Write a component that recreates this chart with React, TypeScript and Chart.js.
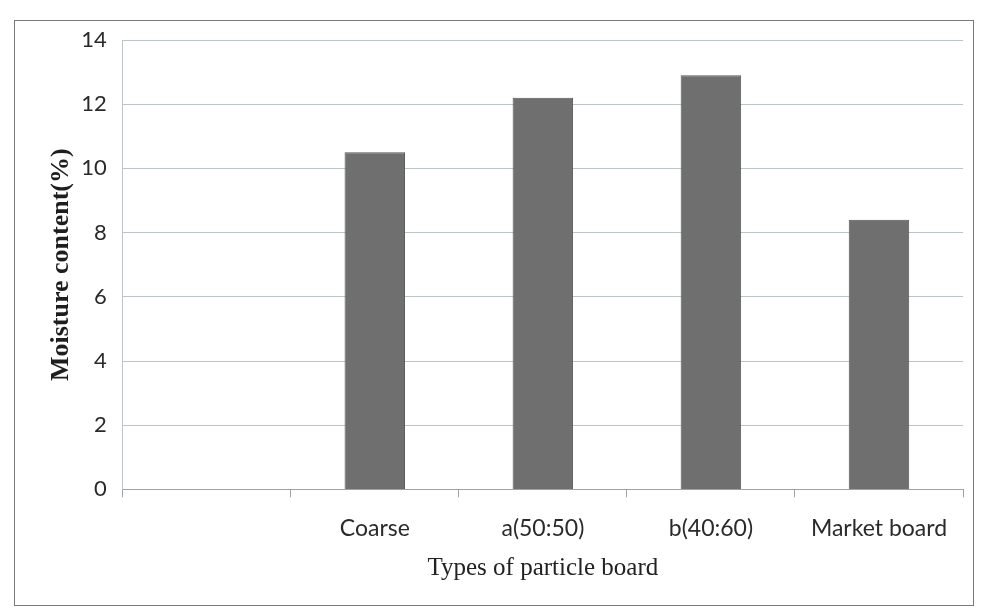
import React, { useEffect, useRef } from "react";
import { Chart, registerables } from "chart.js";

Chart.register(...registerables);

const categories = ["", "Coarse", "a(50:50)", "b(40:60)", "Market board"];
const moisture = [null, 10.5, 12.2, 12.9, 8.4];
const yMin = 0;
const yMax = 14;
const yStep = 2;
const yTitle = "Moisture content(%)";
const xTitle = "Types of particle board";

export default function App() {
  const ref = useRef<HTMLCanvasElement | null>(null);

  useEffect(() => {
    if (!ref.current) return;
    const chart = new Chart(ref.current, {
      type: "bar",
      data: {
        labels: categories,
        datasets: [
          {
            label: "Moisture content",
            data: moisture as any,
            backgroundColor: "#6f6f6f",
            borderColor: "#555555",
            borderWidth: 1,
            barPercentage: 0.36,
            categoryPercentage: 1,
          },
        ],
      },
      options: {
        animation: false,
        responsive: false,
        maintainAspectRatio: false,
        layout: { padding: { left: 44, top: 40, right: 18, bottom: 27 } },
        plugins: {
          legend: { display: false },
          tooltip: { enabled: false },
        },
        scales: {
          x: {
            grid: {
              offset: true,
              drawOnChartArea: false,
              drawTicks: true,
              tickLength: 8,
              color: "#9aa3a5",
            },
            border: { display: true, color: "#9aa3a5" },
            ticks: {
              padding: 17,
              color: "#2a2a2a",
              font: { family: "Lato", size: 23 },
              maxRotation: 0,
            },
            title: {
              display: true,
              text: xTitle,
              color: "#222",
              font: { family: "Liberation Serif", size: 25 },
              padding: { top: -6, bottom: 4 },
            },
          },
          y: {
            min: yMin,
            max: yMax,
            ticks: {
              stepSize: yStep,
              padding: 16,
              color: "#2a2a2a",
              font: { family: "Lato", size: 22 },
            },
            grid: { color: "#bcc6c8", drawTicks: false },
            border: { display: true, color: "#bcc6c8" },
            title: {
              display: true,
              text: yTitle,
              color: "#1e1e1e",
              font: { family: "Liberation Serif", size: 26, weight: "bold" },
              padding: { top: 2, bottom: -12 },
            },
          },
        },
      },
    });
    return () => chart.destroy();
  }, []);

  return (
    <div style={{ position: "absolute", left: 0, top: 0, width: 981, height: 614, background: "#fff" }}>
      <div
        style={{
          position: "absolute",
          left: 14,
          top: 20,
          width: 958,
          height: 584,
          border: "1.5px solid #7a7a7a",
        }}
      />
      <canvas ref={ref} width={981} height={614} style={{ position: "absolute", left: 0, top: 0 }} />
    </div>
  );
}
